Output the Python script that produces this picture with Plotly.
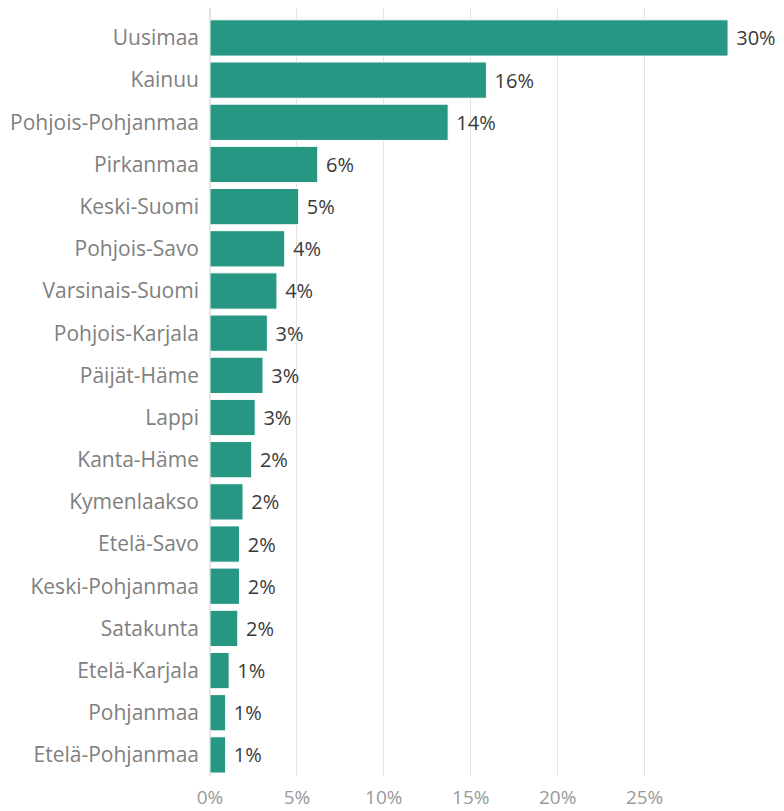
import plotly.graph_objects as go

regions = ["Uusimaa", "Kainuu", "Pohjois-Pohjanmaa", "Pirkanmaa", "Keski-Suomi",
           "Pohjois-Savo", "Varsinais-Suomi", "Pohjois-Karjala", "Päijät-Häme", "Lappi",
           "Kanta-Häme", "Kymenlaakso", "Etelä-Savo", "Keski-Pohjanmaa", "Satakunta",
           "Etelä-Karjala", "Pohjanmaa", "Etelä-Pohjanmaa"]
shares = [0.298, 0.159, 0.137, 0.062, 0.051, 0.043, 0.0385, 0.033, 0.0305, 0.026,
          0.024, 0.019, 0.017, 0.017, 0.016, 0.011, 0.009, 0.009]
tick_vals = [0, 0.05, 0.10, 0.15, 0.20, 0.25]
tick_text = ["0%", "5%", "10%", "15%", "20%", "25%"]

labels = [f" {round(v*100):.0f}%" for v in shares]

fig = go.Figure(go.Bar(
    x=shares, y=regions, orientation="h",
    marker=dict(color="#279683", line=dict(color="white", width=1)),
    text=labels, textposition="outside", cliponaxis=False,
    textfont=dict(family="Open Sans", size=20, color="#3a3a3a"),
    hoverinfo="skip",
))

# page body has an 8px margin, so the figure is offset by 8px
fig.update_layout(
    width=776, height=803,
    margin=dict(l=202, r=49, t=0, b=35),
    paper_bgcolor="white", plot_bgcolor="white",
    bargap=0.14,
    showlegend=False,
    font=dict(family="Open Sans", size=21, color="#777777"),
    xaxis=dict(range=[0, 0.302], tickvals=tick_vals, ticktext=tick_text,
               showgrid=True, gridcolor="#e3e3e3", gridwidth=1, zeroline=True,
               zerolinecolor="#e3e3e3", showline=False, ticks="", automargin=False,
               ticklabelstandoff=8,
               tickfont=dict(family="Open Sans", size=19, color="#999999")),
    yaxis=dict(categoryorder="array", categoryarray=regions, range=[17.5, -0.71],
               showgrid=False, ticks="", ticklen=0, automargin=False,
               ticklabelstandoff=10,
               tickfont=dict(family="Open Sans", size=21, color="#808080")),
)

fig.write_html("out.html")
